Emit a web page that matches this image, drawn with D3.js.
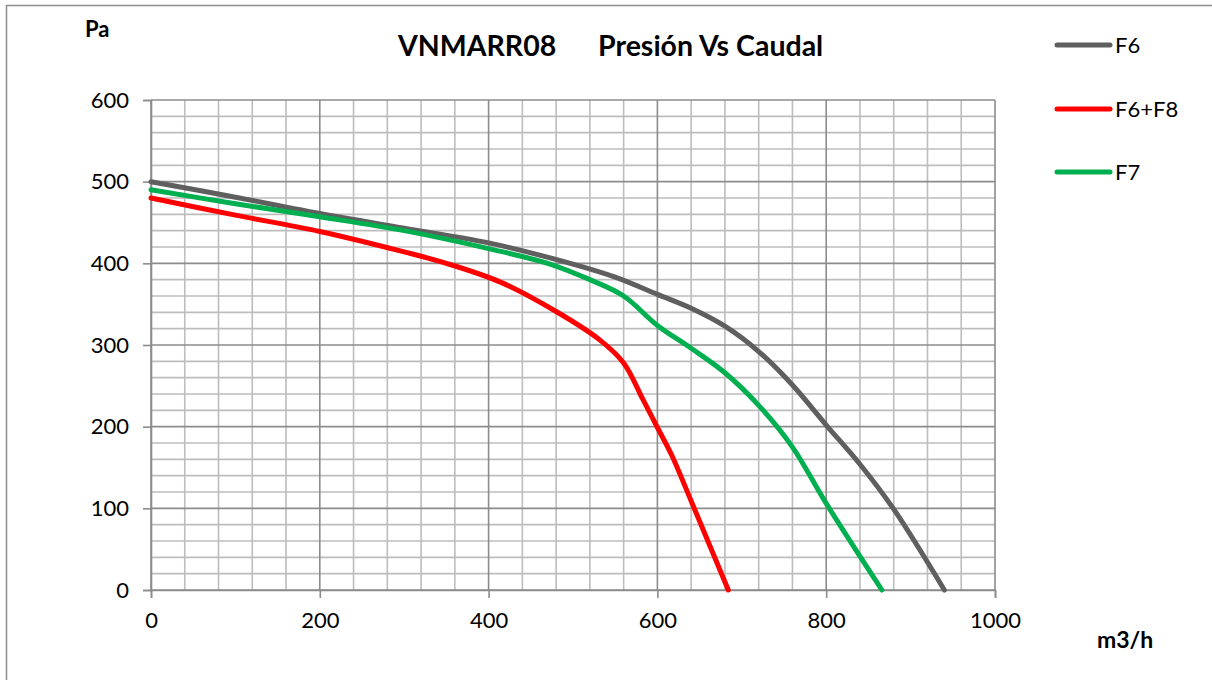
<!DOCTYPE html>
<html><head><meta charset="utf-8">
<script src="https://cdn.jsdelivr.net/npm/d3@7"></script>
<style>body{margin:0;background:#fff}svg{display:block;font-family:Lato,"Open Sans",sans-serif}</style>
</head><body><svg id="c" width="1212" height="680"></svg>
<script>
const seriesNames = ["F6", "F6+F8", "F7"];
const seriesColors = ["#5f5f5f", "#ff0000", "#00b050"];
const f6 = [[0,500],[100,481],[200,461],[300,443],[400,425],[500,399],[550,383],[600,362],[640,345],[680,323],[720,292],[760,251],[800,202],[840,154],[880,99],[940,0]];
const f6f8 = [[0,480],[100,459],[200,439],[300,414],[350,400],[414,377],[480,341],[532,306],[560,278],[583,233],[600,199],[617,165],[640,109],[684,0]];
const f7 = [[0,490],[100,473],[200,457],[300,440],[400,418],[470,400],[520,380],[560,360],[600,324],[640,296],[680,266],[720,226],[760,175],[800,106],[866,0]];
const xTicks = [0,200,400,600,800,1000];
const yTicks = [0,100,200,300,400,500,600];
const titleParts = ["VNMARR08", "Presión Vs Caudal"];

const svg = d3.select("#c");
const L=151,R=995,T=100,B=590;
const x = d3.scaleLinear().domain([0,1000]).range([L,R]);
const y = d3.scaleLinear().domain([0,600]).range([B,T]);

svg.append("rect").attr("x",6.5).attr("y",5.5).attr("width",1212).attr("height",700).attr("fill","none").attr("stroke","#8c8c8c").attr("stroke-width",1.5);

const g = svg.append("g");
g.selectAll(".vx").data(d3.range(0,1001,40).filter(v=>v%200)).join("line")
 .attr("x1",d=>x(d)).attr("x2",d=>x(d)).attr("y1",T).attr("y2",B).attr("stroke","#bdbdbd").attr("stroke-width",1.6);
g.selectAll(".hy").data(d3.range(0,601,20).filter(v=>v%100)).join("line")
 .attr("y1",d=>y(d)).attr("y2",d=>y(d)).attr("x1",L).attr("x2",R).attr("stroke","#bdbdbd").attr("stroke-width",1.6);
g.selectAll(".mx").data(xTicks).join("line")
 .attr("x1",d=>x(d)).attr("x2",d=>x(d)).attr("y1",T).attr("y2",B).attr("stroke","#8c8c8c").attr("stroke-width",1.6);
g.selectAll(".my").data(yTicks).join("line")
 .attr("y1",d=>y(d)).attr("y2",d=>y(d)).attr("x1",L).attr("x2",R).attr("stroke","#8c8c8c").attr("stroke-width",1.6);

const xa = svg.append("g").attr("transform",`translate(0,${B})`)
 .call(d3.axisBottom(x).tickValues(xTicks).tickSize(8).tickPadding(14).tickFormat(d3.format("d")));
const ya = svg.append("g").attr("transform",`translate(${L},0)`)
 .call(d3.axisLeft(y).tickValues(yTicks).tickSize(8).tickPadding(14).tickFormat(d3.format("d")));
[xa,ya].forEach(a=>{
  a.select(".domain").attr("stroke","#8c8c8c").attr("stroke-width",1.6);
  a.selectAll(".tick line").attr("stroke","#8c8c8c").attr("stroke-width",1.6);
  a.selectAll("text").attr("font-family","Lato, sans-serif").attr("font-size",22).attr("fill","#000");
});

const line = d3.line().x(d=>x(d[0])).y(d=>y(d[1])).curve(d3.curveCatmullRom.alpha(0.5));
const data = [f6,f6f8,f7];
[0,2,1].forEach(i=>{
  svg.append("path").datum(data[i]).attr("d",line).attr("fill","none")
   .attr("stroke",seriesColors[i]).attr("stroke-width",5).attr("stroke-linecap","round").attr("stroke-linejoin","round");
});

svg.append("text").attr("x",398).attr("y",56).attr("font-weight","bold").attr("font-size",28.5).text(titleParts[0]);
svg.append("text").attr("x",598).attr("y",56).attr("font-weight","bold").attr("font-size",28.5).text(titleParts[1]);
svg.append("text").attr("x",85).attr("y",37).attr("font-weight","bold").attr("font-size",22).text("Pa");
svg.append("text").attr("x",1097).attr("y",648).attr("font-weight","bold").attr("font-size",23).text("m3/h");

const ly = [45,109,172];
seriesNames.forEach((n,i)=>{
  svg.append("line").attr("x1",1057).attr("x2",1110).attr("y1",ly[i]).attr("y2",ly[i])
   .attr("stroke",seriesColors[i]).attr("stroke-width",5).attr("stroke-linecap","round");
  svg.append("text").attr("x",1115).attr("y",ly[i]+8).attr("font-size",22).text(n);
});
</script></body></html>
